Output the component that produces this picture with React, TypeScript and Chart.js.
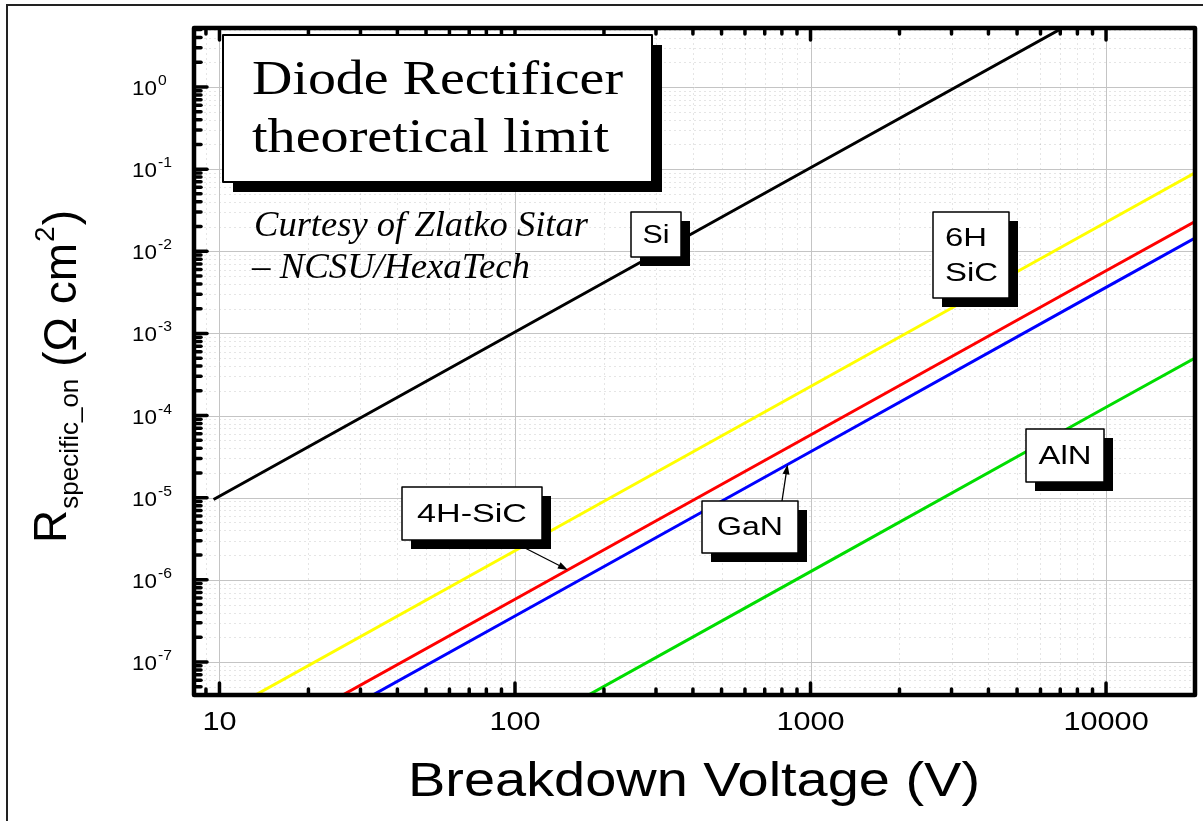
import React, { useEffect, useRef } from "react";
import { Chart, registerables } from "chart.js";

Chart.register(...registerables);

// ---- data ----
const VOLT_SI = [9.55, 100, 1000, 7100];
const R_SI = [9.5e-6, 1.04e-3, 1.04e-1, 5.2];
const VOLT = [10, 100, 1000, 10000, 20000];
const R_6H_SIC = [2.26e-8, 2.26e-6, 2.26e-4, 2.26e-2, 9.0e-2];
const R_4H_SIC = [5.8e-9, 5.8e-7, 5.8e-5, 5.8e-3, 2.3e-2];
const R_GAN = [3.63e-9, 3.63e-7, 3.63e-5, 3.63e-3, 1.45e-2];
const R_ALN = [1.26e-10, 1.26e-8, 1.26e-6, 1.26e-4, 5.0e-4];

const X_TICKS = [10, 100, 1000, 10000];
const X_TICK_LABELS = ["10", "100", "1000", "10000"];
const Y_EXPONENTS = [0, -1, -2, -3, -4, -5, -6, -7];

const X_MIN = 8.2;
const X_MAX = 20000;
const Y_MIN = 3.96e-8;
const Y_MAX = 5.23;

// arrow tips on the curves (data coordinates)
const ARROW_4H = { v: 151, r: 1.32e-6 };
const ARROW_GAN = { v: 836, r: 2.54e-5 };

const SANS = "'Liberation Sans', Arial, sans-serif";
const SERIF = "'Liberation Serif', 'Times New Roman', serif";

function fitText(ctx: CanvasRenderingContext2D, text: string, x: number, y: number, font: string, width: number, align: string = "left") {
  ctx.font = font;
  const w = ctx.measureText(text).width;
  const sx = width / w;
  let left = x;
  if (align === "center") left = x - width / 2;
  if (align === "right") left = x - width;
  ctx.save();
  ctx.translate(left, y);
  ctx.scale(sx, 1);
  ctx.textAlign = "left";
  ctx.textBaseline = "alphabetic";
  ctx.fillText(text, 0, 0);
  ctx.restore();
}

function scaledText(ctx: CanvasRenderingContext2D, text: string, x: number, y: number, font: string, sx: number, align: string = "left") {
  ctx.font = font;
  const w = ctx.measureText(text).width * sx;
  let left = x;
  if (align === "center") left = x - w / 2;
  if (align === "right") left = x - w;
  ctx.save();
  ctx.translate(left, y);
  ctx.scale(sx, 1);
  ctx.textAlign = "left";
  ctx.textBaseline = "alphabetic";
  ctx.fillText(text, 0, 0);
  ctx.restore();
  return w;
}

function shadowBox(ctx: CanvasRenderingContext2D, x: number, y: number, w: number, h: number, off: number, lw: number) {
  ctx.fillStyle = "#000";
  ctx.fillRect(x + off, y + off, w, h);
  ctx.fillStyle = "#fff";
  ctx.fillRect(x, y, w, h);
  ctx.strokeStyle = "#000";
  ctx.lineWidth = lw;
  ctx.strokeRect(x, y, w, h);
}

function arrow(ctx: CanvasRenderingContext2D, x0: number, y0: number, x1: number, y1: number) {
  const ang = Math.atan2(y1 - y0, x1 - x0);
  const len = 10;
  const hw = 3.5;
  ctx.strokeStyle = "#000";
  ctx.lineWidth = 1.3;
  ctx.beginPath();
  ctx.moveTo(x0, y0);
  ctx.lineTo(x1 - Math.cos(ang) * len * 0.8, y1 - Math.sin(ang) * len * 0.8);
  ctx.stroke();
  ctx.fillStyle = "#000";
  ctx.beginPath();
  ctx.moveTo(x1, y1);
  ctx.lineTo(x1 - Math.cos(ang) * len - Math.sin(ang) * hw, y1 - Math.sin(ang) * len + Math.cos(ang) * hw);
  ctx.lineTo(x1 - Math.cos(ang) * len + Math.sin(ang) * hw, y1 - Math.sin(ang) * len - Math.cos(ang) * hw);
  ctx.closePath();
  ctx.fill();
}

function minorValues(min: number, max: number) {
  const out: number[] = [];
  for (let e = Math.floor(Math.log10(min)); e <= Math.ceil(Math.log10(max)); e++) {
    for (let m = 2; m <= 9; m++) {
      const v = m * Math.pow(10, e);
      if (v > min && v < max) out.push(v);
    }
  }
  return out;
}
function majorValues(min: number, max: number) {
  const out: number[] = [];
  for (let e = Math.floor(Math.log10(min)); e <= Math.ceil(Math.log10(max)); e++) {
    const v = Math.pow(10, e);
    if (v >= min && v <= max) out.push(v);
  }
  return out;
}

const decorPlugin = {
  id: "decor",
  beforeDatasetsDraw(chart: any) {
    const ctx: CanvasRenderingContext2D = chart.ctx;
    const { left, right, top, bottom } = chart.chartArea;
    const xs = chart.scales.x;
    const ys = chart.scales.y;
    ctx.save();
    // outer figure border
    ctx.strokeStyle = "#222";
    ctx.lineWidth = 2;
    ctx.beginPath();
    ctx.moveTo(7, 821);
    ctx.lineTo(7, 5);
    ctx.lineTo(1203, 5);
    ctx.stroke();
    // minor grid
    ctx.strokeStyle = "rgba(0,0,0,0.10)";
    ctx.lineWidth = 1;
    ctx.setLineDash([2, 3]);
    for (const v of minorValues(X_MIN, X_MAX)) {
      const px = Math.round(xs.getPixelForValue(v)) + 0.5;
      ctx.beginPath();
      ctx.moveTo(px, top);
      ctx.lineTo(px, bottom);
      ctx.stroke();
    }
    for (const v of minorValues(Y_MIN, Y_MAX)) {
      const py = Math.round(ys.getPixelForValue(v)) + 0.5;
      ctx.beginPath();
      ctx.moveTo(left, py);
      ctx.lineTo(right, py);
      ctx.stroke();
    }
    // major grid
    ctx.setLineDash([]);
    ctx.strokeStyle = "#c4c4c4";
    for (const v of majorValues(X_MIN, X_MAX)) {
      const px = Math.round(xs.getPixelForValue(v)) + 0.5;
      ctx.beginPath();
      ctx.moveTo(px, top);
      ctx.lineTo(px, bottom);
      ctx.stroke();
    }
    for (const v of majorValues(Y_MIN, Y_MAX)) {
      const py = Math.round(ys.getPixelForValue(v)) + 0.5;
      ctx.beginPath();
      ctx.moveTo(left, py);
      ctx.lineTo(right, py);
      ctx.stroke();
    }
    ctx.restore();
  },
  afterDatasetsDraw(chart: any) {
    const ctx: CanvasRenderingContext2D = chart.ctx;
    const { left, right, top, bottom } = chart.chartArea;
    const xs = chart.scales.x;
    const ys = chart.scales.y;
    ctx.save();

    // ---- frame ----
    ctx.strokeStyle = "#000";
    ctx.lineWidth = 4.5;
    ctx.lineJoin = "round";
    ctx.strokeRect(left, top, right - left, bottom - top);

    // ---- ticks (inward) ----
    ctx.lineCap = "round";
    ctx.lineWidth = 3.5;
    const tick = (x0: number, y0: number, x1: number, y1: number) => {
      ctx.beginPath();
      ctx.moveTo(x0, y0);
      ctx.lineTo(x1, y1);
      ctx.stroke();
    };
    for (const v of majorValues(X_MIN, X_MAX)) {
      const px = xs.getPixelForValue(v);
      tick(px, bottom, px, bottom - 12);
      tick(px, top, px, top + 12);
    }
    for (const v of minorValues(X_MIN, X_MAX)) {
      const px = xs.getPixelForValue(v);
      tick(px, bottom, px, bottom - 6);
      tick(px, top, px, top + 6);
    }
    for (const v of majorValues(Y_MIN, Y_MAX)) {
      const py = ys.getPixelForValue(v);
      tick(left, py, left + 13, py);
    }
    for (const v of minorValues(Y_MIN, Y_MAX)) {
      const py = ys.getPixelForValue(v);
      tick(left, py, left + 7, py);
    }

    // ---- x tick labels ----
    ctx.fillStyle = "#000";
    X_TICKS.forEach((v, i) => {
      const px = xs.getPixelForValue(v);
      scaledText(ctx, X_TICK_LABELS[i], px, 730, `26px ${SANS}`, 1.18, "center");
    });

    // ---- y tick labels (10^n) ----
    Y_EXPONENTS.forEach((e) => {
      const py = ys.getPixelForValue(Math.pow(10, e));
      const w = scaledText(ctx, "10", 132, py + 8, `20px ${SANS}`, 1.12, "left");
      scaledText(ctx, String(e), 132 + w + 1, py - 2, `14px ${SANS}`, 1.12, "left");
    });

    // ---- x axis title ----
    fitText(ctx, "Breakdown Voltage (V)", 408, 796, `48px ${SANS}`, 572, "left");

    // ---- y axis title (rotated) ----
    ctx.save();
    ctx.rotate(-Math.PI / 2);
    // local x = -screenY, local y = screenX
    const baseR = 66;
    let u = -543;
    ctx.font = `46px ${SANS}`;
    ctx.textAlign = "left";
    ctx.textBaseline = "alphabetic";
    ctx.fillText("R", u, baseR);
    u += ctx.measureText("R").width + 1;
    ctx.font = `26px ${SANS}`;
    ctx.fillText("specific_on", u, baseR + 12);
    u += ctx.measureText("specific_on").width + 12;
    ctx.font = `46px ${SANS}`;
    const baseP = baseR + 10;
    ctx.fillText("(Ω cm", u, baseP);
    u += ctx.measureText("(Ω cm").width + 1;
    ctx.font = `28px ${SANS}`;
    ctx.fillText("2", u, baseP - 22);
    u += ctx.measureText("2").width + 1;
    ctx.font = `46px ${SANS}`;
    ctx.fillText(")", u, baseP);
    ctx.restore();

    // ---- title box ----
    shadowBox(ctx, 223, 35, 429, 147, 10, 2);
    ctx.fillStyle = "#000";
    fitText(ctx, "Diode Rectificer", 252, 94, `48px ${SERIF}`, 371);
    fitText(ctx, "theoretical limit", 252, 152, `48px ${SERIF}`, 357);

    // ---- credit ----
    fitText(ctx, "Curtesy of Zlatko Sitar", 254, 236, `italic 36px ${SERIF}`, 334);
    fitText(ctx, "– NCSU/HexaTech", 252, 278, `italic 36px ${SERIF}`, 278);

    // ---- arrows ----
    arrow(ctx, 523, 547, xs.getPixelForValue(ARROW_4H.v), ys.getPixelForValue(ARROW_4H.r));
    arrow(ctx, 782, 501, xs.getPixelForValue(ARROW_GAN.v), ys.getPixelForValue(ARROW_GAN.r));

    // ---- curve labels ----
    const lab = `26px ${SANS}`;
    shadowBox(ctx, 631, 212, 50, 45, 9, 1.5);
    ctx.fillStyle = "#000";
    fitText(ctx, "Si", 656, 243, lab, 27, "center");

    shadowBox(ctx, 933, 212, 76, 86, 9, 1.5);
    ctx.fillStyle = "#000";
    fitText(ctx, "6H", 945, 246, lab, 42, "left");
    fitText(ctx, "SiC", 945, 281, lab, 53, "left");

    shadowBox(ctx, 402, 487, 140, 53, 9, 1.5);
    ctx.fillStyle = "#000";
    fitText(ctx, "4H-SiC", 472, 522, lab, 110, "center");

    shadowBox(ctx, 702, 501, 96, 52, 9, 1.5);
    ctx.fillStyle = "#000";
    fitText(ctx, "GaN", 750, 535, lab, 66, "center");

    shadowBox(ctx, 1026, 429, 78, 53, 9, 1.5);
    ctx.fillStyle = "#000";
    fitText(ctx, "AlN", 1065, 464, lab, 53, "center");

    ctx.restore();
  },
};

function series(xs: number[], ys: number[]) {
  return xs.map((x, i) => ({ x, y: ys[i] }));
}

export default function App() {
  const ref = useRef<HTMLCanvasElement | null>(null);
  useEffect(() => {
    document.body.style.margin = "0";
    const canvas = ref.current;
    if (!canvas) return;
    const common = { showLine: true, pointRadius: 0, borderWidth: 3, fill: false, tension: 0 };
    const chart = new Chart(canvas, {
      type: "scatter",
      data: {
        datasets: [
          { label: "Si", data: series(VOLT_SI, R_SI), borderColor: "#000000", ...common },
          { label: "6H SiC", data: series(VOLT, R_6H_SIC), borderColor: "#ffff00", ...common },
          { label: "4H-SiC", data: series(VOLT, R_4H_SIC), borderColor: "#ff0000", ...common },
          { label: "GaN", data: series(VOLT, R_GAN), borderColor: "#0000ff", ...common },
          { label: "AlN", data: series(VOLT, R_ALN), borderColor: "#00dd00", ...common },
        ],
      },
      options: {
        responsive: false,
        animation: false,
        devicePixelRatio: 1,
        layout: { padding: { left: 194, right: 8, top: 28, bottom: 126 } },
        plugins: { legend: { display: false }, tooltip: { enabled: false } },
        scales: {
          x: { type: "logarithmic", min: X_MIN, max: X_MAX, display: false },
          y: { type: "logarithmic", min: Y_MIN, max: Y_MAX, display: false },
        },
      },
      plugins: [decorPlugin],
    } as any);
    return () => chart.destroy();
  }, []);
  return (
    <div style={{ width: 1203, height: 821, background: "#fff" }}>
      <canvas ref={ref} width={1203} height={821} style={{ display: "block" }} />
    </div>
  );
}
